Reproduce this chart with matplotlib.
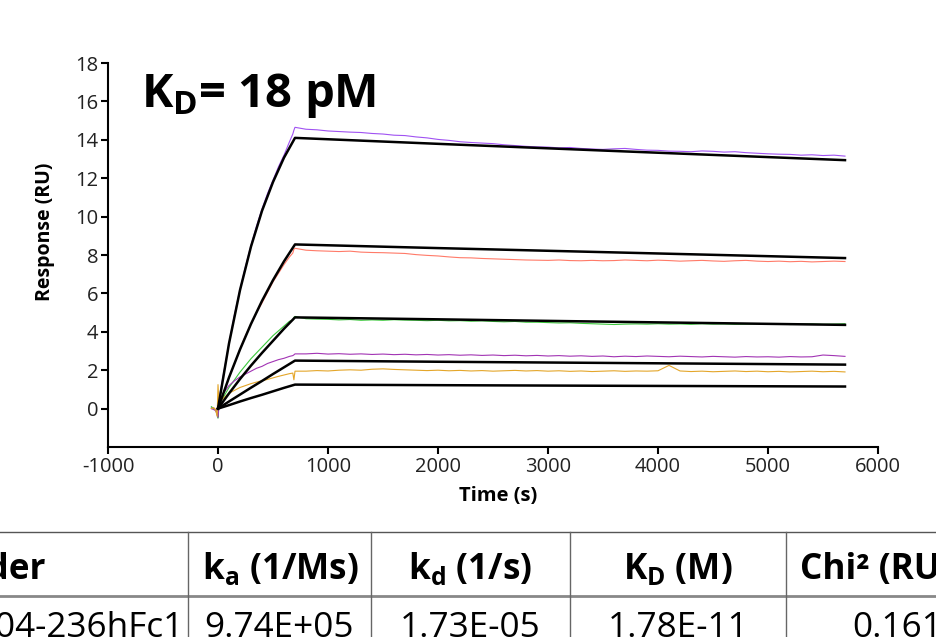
import matplotlib
matplotlib.use("Agg")
import matplotlib.pyplot as plt

plt.rcParams["font.family"] = ["Open Sans", "DejaVu Sans"]
plt.rcParams["mathtext.fontset"] = "custom"
plt.rcParams["mathtext.rm"] = "Open Sans"
plt.rcParams["mathtext.bf"] = "Open Sans:bold"
plt.rcParams["mathtext.it"] = "Open Sans:italic"
plt.rcParams["axes.unicode_minus"] = False

# ---- sensorgram data (RU) ----
t_assoc = [-60, -40, -20, -8, 0, 10, 50, 100, 150, 200, 250, 300, 350,
           400, 450, 500, 550, 600, 650, 680, 690, 700]
t_dissoc = list(range(800, 5800, 100))

purple_assoc = [0.05, 0.0, -0.1, -0.3, -0.45, 0.5, 1.8, 3.4, 4.9, 6.2, 7.4, 8.5, 9.5,
                10.4, 11.2, 11.9, 12.6, 13.2, 13.9, 14.3, 14.5, 14.65]
purple_dissoc = [14.55, 14.52, 14.46, 14.43, 14.40, 14.38, 14.33, 14.30, 14.24, 14.22,
                 14.15, 14.10, 14.02, 13.97, 13.90, 13.86, 13.83, 13.80, 13.74, 13.70,
                 13.66, 13.63, 13.62, 13.58, 13.60, 13.55, 13.52, 13.50, 13.53, 13.55,
                 13.50, 13.46, 13.45, 13.41, 13.40, 13.38, 13.42, 13.40, 13.36, 13.38,
                 13.33, 13.30, 13.27, 13.25, 13.24, 13.20, 13.22, 13.18, 13.20, 13.15]

salmon_assoc = [0.0, 0.05, -0.05, -0.2, -0.4, 0.3, 0.85, 1.6, 2.35, 3.1, 3.8, 4.4, 5.0,
                5.5, 6.05, 6.6, 7.05, 7.5, 7.9, 8.1, 8.3, 8.35]
salmon_dissoc = [8.25, 8.22, 8.20, 8.18, 8.20, 8.15, 8.13, 8.12, 8.10, 8.08,
                 8.02, 7.98, 7.95, 7.90, 7.86, 7.85, 7.82, 7.80, 7.78, 7.76,
                 7.74, 7.73, 7.72, 7.74, 7.71, 7.70, 7.72, 7.70, 7.71, 7.74,
                 7.72, 7.70, 7.73, 7.71, 7.68, 7.70, 7.72, 7.69, 7.67, 7.70,
                 7.72, 7.68, 7.66, 7.68, 7.65, 7.67, 7.64, 7.66, 7.68, 7.66]

green_assoc = [0.1, 0.0, -0.1, -0.3, -0.5, 0.2, 0.6, 1.1, 1.5, 1.9, 2.25, 2.6, 2.9,
               3.2, 3.5, 3.8, 4.05, 4.3, 4.55, 4.6, 4.75, 4.8]
green_dissoc = [4.68, 4.66, 4.65, 4.62, 4.64, 4.60, 4.62, 4.60, 4.63, 4.61,
                4.60, 4.58, 4.60, 4.57, 4.58, 4.55, 4.57, 4.54, 4.52, 4.54,
                4.50, 4.50, 4.48, 4.46, 4.47, 4.44, 4.42, 4.40, 4.38, 4.40,
                4.41, 4.40, 4.42, 4.40, 4.41, 4.39, 4.42, 4.40, 4.41, 4.39,
                4.40, 4.42, 4.40, 4.41, 4.38, 4.40, 4.41, 4.39, 4.40, 4.42]

magenta_assoc = [0.0, -0.05, -0.1, -0.25, -0.45, 0.3, 0.8, 1.2, 1.45, 1.65, 1.8, 1.95, 2.1,
                 2.2, 2.35, 2.45, 2.55, 2.62, 2.72, 2.76, 2.8, 2.85]
magenta_dissoc = [2.85, 2.88, 2.84, 2.86, 2.83, 2.85, 2.82, 2.84, 2.81, 2.83,
                  2.80, 2.82, 2.79, 2.81, 2.78, 2.80, 2.77, 2.79, 2.76, 2.78,
                  2.75, 2.77, 2.74, 2.76, 2.73, 2.75, 2.72, 2.74, 2.70, 2.73,
                  2.71, 2.74, 2.72, 2.70, 2.73, 2.71, 2.69, 2.72, 2.70, 2.68,
                  2.71, 2.69, 2.70, 2.68, 2.71, 2.69, 2.70, 2.79, 2.76, 2.72]

orange_assoc = [0.0, 0.05, -0.1, -0.4, 1.25, 0.3, 0.55, 0.8, 0.95, 1.1, 1.2, 1.3, 1.38,
                1.45, 1.52, 1.6, 1.68, 1.75, 1.82, 1.85, 1.5, 1.95]
orange_dissoc = [1.95, 1.98, 1.96, 2.00, 2.02, 2.00, 2.05, 2.07, 2.04, 2.02,
                 2.00, 1.98, 2.00, 1.97, 1.99, 1.96, 1.98, 1.95, 1.97, 1.99,
                 1.96, 1.98, 1.95, 1.97, 1.94, 1.96, 1.93, 1.95, 1.97, 1.94,
                 1.96, 1.95, 1.97, 2.25, 1.96, 1.93, 1.95, 1.92, 1.94, 1.96,
                 1.93, 1.95, 1.92, 1.94, 1.91, 1.93, 1.95, 1.92, 1.94, 1.91]

# 1:1 fit curves
t_fit = [0, 100, 200, 300, 400, 500, 600, 700, 2000, 3500, 5700]
fit1 = [0, 3.39, 6.17, 8.44, 10.3, 11.8, 13.07, 14.1, 13.79, 13.44, 12.94]
fit2 = [0, 1.62, 3.08, 4.41, 5.61, 6.69, 7.67, 8.55, 8.36, 8.15, 7.84]
fit3 = [0, 0.79, 1.54, 2.24, 2.90, 3.53, 4.16, 4.75, 4.65, 4.53, 4.36]
fit4 = [0, 0.37, 0.73, 1.09, 1.44, 1.80, 2.15, 2.50, 2.44, 2.38, 2.29]
fit5 = [0, 0.18, 0.37, 0.55, 0.72, 0.90, 1.08, 1.25, 1.22, 1.19, 1.15]

# ---- kinetics table ----
table_header = ["Binder", r"$\mathbf{k_a}$ (1/Ms)", r"$\mathbf{k_d}$ (1/s)",
                r"$\mathbf{K_D}$ (M)", "Chi² (RU²)"]
table_row = ["204-236hFc1", "9.74E+05", "1.73E-05", "1.78E-11", "0.161"]

W, H = 937, 637
fig = plt.figure(figsize=(W / 100, H / 100), dpi=100)
ax = fig.add_axes([108 / W, 1 - 447 / H, 770 / W, 384 / H])

traces = [
    (purple_assoc, purple_dissoc, "#a052f2"),
    (salmon_assoc, salmon_dissoc, "#ff7a68"),
    (green_assoc, green_dissoc, "#3cc83c"),
    (magenta_assoc, magenta_dissoc, "#a234b4"),
    (orange_assoc, orange_dissoc, "#e4a62a"),
]
for a, d, c in traces:
    ax.plot(t_assoc + t_dissoc, a + d, color=c, lw=0.8)

for f in [fit1, fit2, fit3, fit4, fit5]:
    ax.plot(t_fit, f, color="black", lw=1.8)

ax.set_xlim(-1000, 6000)
ax.set_ylim(-2, 18)
ax.set_xticks(range(-1000, 7000, 1000))
ax.set_yticks(range(0, 20, 2))
for s in ["top", "right"]:
    ax.spines[s].set_visible(False)
for s in ["left", "bottom"]:
    ax.spines[s].set_linewidth(1.5)
ax.tick_params(direction="out", length=5, width=1.5, labelsize=14.5,
               labelcolor="#222222", pad=2)

fig.text(45 / W, 1 - 232 / H, "Response (RU)", rotation=90, ha="center",
         va="center", fontsize=14, fontweight="bold")
fig.text(498 / W, 1 - 496 / H, "Time (s)", ha="center", va="center",
         fontsize=14.5, fontweight="bold")
fig.text(141 / W, 1 - 107 / H, r"$\mathbf{K_D}$= 18 pM", ha="left",
         va="baseline", fontsize=34, fontweight="bold")

# table drawn in pixel coordinates
tab = fig.add_axes([0, 0, 1, 1], zorder=-1)
tab.set_xlim(0, W)
tab.set_ylim(H, 0)
tab.axis("off")
col_edges = [188, 371, 570, 786]
tab.plot([0, W], [532, 532], color="#555555", lw=1)
tab.plot([0, W], [596, 596], color="#888888", lw=2)
for x in col_edges:
    tab.plot([x, x], [532, H], color="#666666", lw=1)

head_x = [46, 280, 470, 678, 800]
head_ha = ["right", "center", "center", "center", "left"]
for txt, x, ha in zip(table_header, head_x, head_ha):
    tab.text(x, 579, txt, ha=ha, va="baseline", fontsize=25.3, fontweight="bold")
row_x = [184, 279, 470, 678, 942]
row_ha = ["right", "center", "center", "center", "right"]
for txt, x, ha in zip(table_row, row_x, row_ha):
    tab.text(x, 637, txt, ha=ha, va="baseline", fontsize=25.3)

fig.savefig("out.png", dpi=100)
